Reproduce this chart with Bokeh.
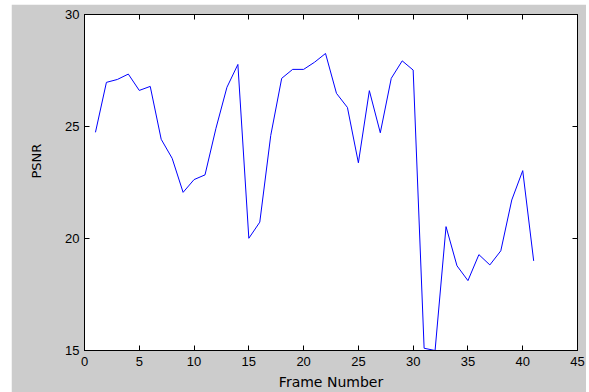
from bokeh.plotting import figure
from bokeh.models import LinearAxis, FixedTicker, Range1d, Title
from bokeh.embed import file_html
from bokeh.resources import INLINE

frames = list(range(1, 42))
psnr = [24.74, 26.97, 27.10, 27.34, 26.61, 26.79, 24.43, 23.58, 22.06, 22.63,
        22.84, 24.92, 26.75, 27.77, 20.01, 20.73, 24.60, 27.15, 27.55, 27.55,
        27.87, 28.26, 26.48, 25.85, 23.38, 26.60, 24.72, 27.15, 27.93, 27.52,
        15.10, 15.00, 20.53, 18.78, 18.12, 19.28, 18.82, 19.45, 21.72, 23.03,
        19.00]
x_ticks = [0, 5, 10, 15, 20, 25, 30, 35, 40, 45]
y_ticks = [15, 20, 25, 30]

BG = "#cccccc"
p = figure(width=575, height=388, output_backend="svg", toolbar_location=None,
           x_range=Range1d(0, 45), y_range=Range1d(15, 30),
           min_border_left=72, min_border_right=9, min_border_top=10, min_border_bottom=41,
           background_fill_color="white", border_fill_color=BG,
           outline_line_color="black", outline_line_width=1)
p.styles = {"margin-left": "11px", "margin-top": "4px"}
p.grid.visible = False

for ax in (p.xaxis[0], p.yaxis[0]):
    ax.major_tick_in = 5
    ax.major_tick_out = 0
    ax.minor_tick_in = 0
    ax.minor_tick_out = 0
    ax.axis_line_color = "black"
    ax.major_tick_line_color = "black"
    ax.major_label_text_font = "Liberation Sans"
    ax.major_label_text_font_size = "13px"
    ax.major_label_text_color = "black"
    ax.axis_label_text_font = "DejaVu Sans"
    ax.axis_label_text_font_size = "14px"
    ax.axis_label_text_font_style = "normal"
    ax.axis_label_text_color = "black"

p.xaxis[0].ticker = FixedTicker(ticks=x_ticks)
p.yaxis[0].ticker = FixedTicker(ticks=y_ticks)
p.xaxis[0].axis_label = "Frame Number"
p.xaxis[0].major_label_standoff = 6
p.xaxis[0].axis_label_standoff = 5
p.yaxis[0].major_label_standoff = 5

ylab = Title(text="PSNR", align="left", vertical_align="top", offset=172, standoff=34,
             text_font="DejaVu Sans", text_font_size="13px",
             text_font_style="normal", text_color="black")
p.add_layout(ylab, "left")

top_ax = LinearAxis(ticker=FixedTicker(ticks=x_ticks), major_tick_in=5, major_tick_out=0,
                    minor_tick_in=0, minor_tick_out=0, major_label_text_font_size="1px",
                    major_label_text_color=None, major_label_standoff=0,
                    axis_line_color="black")
right_ax = LinearAxis(ticker=FixedTicker(ticks=y_ticks), major_tick_in=5, major_tick_out=0,
                      minor_tick_in=0, minor_tick_out=0, major_label_text_font_size="1px",
                      major_label_text_color=None, major_label_standoff=0,
                      axis_line_color="black")
p.add_layout(top_ax, "above")
p.add_layout(right_ax, "right")

p.line(frames, psnr, line_color="#0000ff", line_width=1)

open("out.html", "w").write(file_html(p, INLINE))
